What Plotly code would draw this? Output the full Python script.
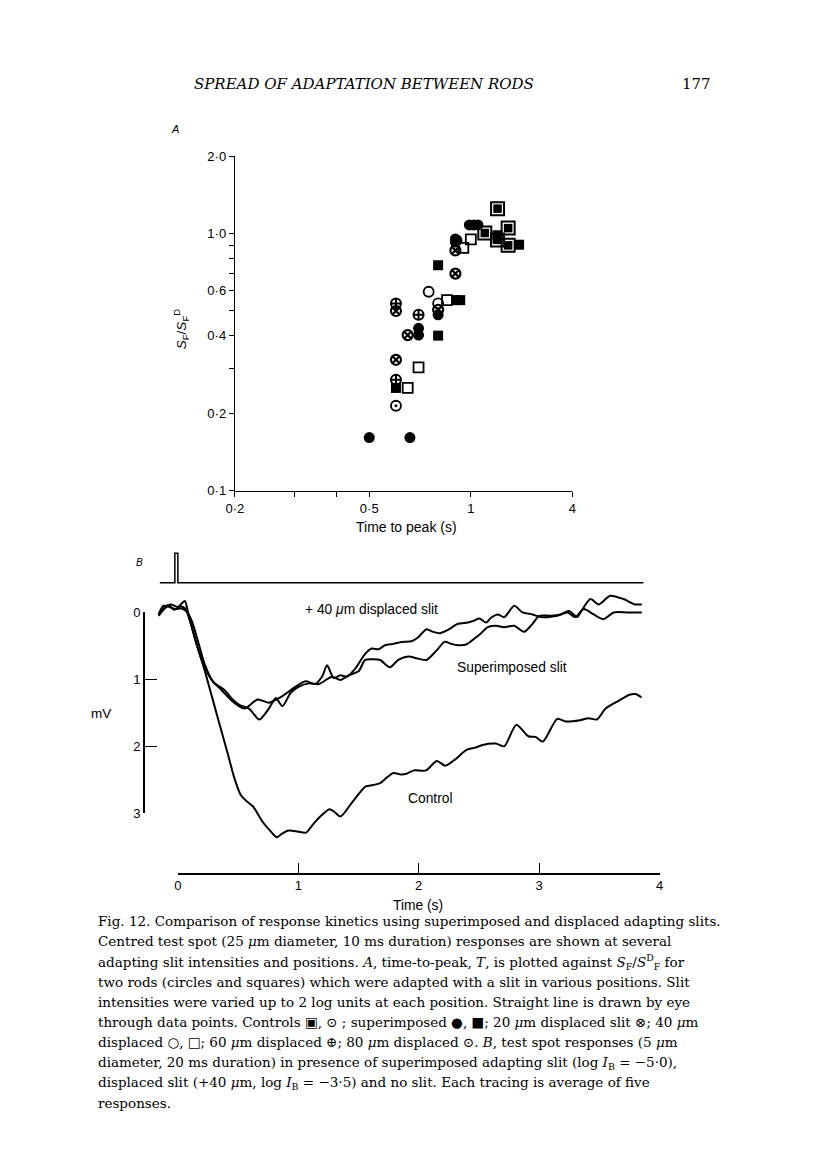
import math
import plotly.graph_objects as go

# The page body keeps the browser's default 8px margin, so the figure is offset by it.
OFF = 8
W, H = 816 - OFF, 1163 - OFF
def xp(px): return (px - OFF) / W
def yp(py): return 1 - (py - OFF) / H

SANS = "Liberation Sans, Arial, sans-serif"
SERIF = "DejaVu Serif, Liberation Serif, serif"

# ---------------- Panel A data (time to peak, s ; S_F/S_F^D) ----------------
ctrl_sq_t = [1.20, 1.29, 1.10, 1.29, 1.20]
ctrl_sq_s = [1.25, 1.05, 1.005, 0.90, 0.945]
ctrl_circ_t = [0.60]
ctrl_circ_s = [0.214]
sup_circ_t = [0.50, 0.66, 0.70, 0.70, 0.80, 0.90, 0.90, 0.91, 0.99, 1.02, 1.05]
sup_circ_s = [0.161, 0.161, 0.428, 0.403, 0.483, 0.927, 0.953, 0.94, 1.08, 1.08, 1.08]
sup_sq_t = [0.60, 0.80, 0.80, 0.905, 0.93, 1.20, 1.20, 1.39]
sup_sq_s = [0.251, 0.753, 0.401, 0.551, 0.551, 0.985, 0.955, 0.905]
d20_t = [0.60, 0.60, 0.65, 0.80, 0.90, 0.90]
d20_s = [0.323, 0.50, 0.403, 0.505, 0.699, 0.86]
d40_circ_t = [0.75, 0.80]
d40_circ_s = [0.594, 0.535]
d40_sq_t = [0.65, 0.70, 0.85, 0.95, 1.00]
d40_sq_s = [0.251, 0.302, 0.551, 0.879, 0.95]
d60_t = [0.60, 0.60, 0.70]
d60_s = [0.270, 0.535, 0.483]

a_xticks = [0.2, 0.3, 0.4, 0.5, 1, 2]
a_xlabels = ["0·2", "", "", "0·5", "1", "4"]
a_yticks = [0.1, 0.2, 0.3, 0.4, 0.5, 0.6, 0.7, 0.8, 0.9, 1.0, 2.0]
a_ylabels = ["0·1", "0·2", "", "0·4", "", "0·6", "", "", "", "1·0", "2·0"]

# ---------------- Panel B data (time, s ; response, mV) ----------------
control_t = [-0.16, -0.13, -0.08, -0.03, 0.02, 0.06, 0.10, 0.15, 0.22, 0.263, 0.346, 0.42, 0.47,
             0.52, 0.57, 0.625, 0.70, 0.76, 0.82, 0.87, 0.92, 0.98, 1.065, 1.10, 1.14, 1.20, 1.26,
             1.30, 1.35, 1.45, 1.56, 1.62, 1.68, 1.74, 1.79, 1.85, 1.90, 1.96, 2.06, 2.15, 2.22,
             2.30, 2.40, 2.47, 2.53, 2.64, 2.71, 2.81, 2.91, 2.97, 3.03, 3.15, 3.22, 3.34, 3.41,
             3.48, 3.55, 3.66, 3.75, 3.80, 3.85]
control_mv = [0.03, -0.04, -0.11, -0.04, -0.09, -0.06, 0.12, 0.44, 0.85, 1.13, 1.67, 2.15, 2.48,
              2.72, 2.82, 2.90, 3.12, 3.25, 3.36, 3.30, 3.26, 3.27, 3.29, 3.22, 3.13, 3.02, 2.94,
              2.98, 3.05, 2.83, 2.60, 2.58, 2.55, 2.46, 2.40, 2.42, 2.41, 2.36, 2.36, 2.22, 2.29,
              2.20, 2.05, 2.02, 1.98, 1.96, 2.00, 1.68, 1.85, 1.86, 1.93, 1.59, 1.63, 1.61, 1.58,
              1.60, 1.44, 1.32, 1.23, 1.22, 1.27]

displaced_t = [-0.16, -0.12, -0.07, -0.02, 0.03, 0.08, 0.12, 0.17, 0.22, 0.29, 0.346, 0.455, 0.538,
               0.565, 0.662, 0.758, 0.84, 0.923, 0.978, 1.06, 1.14, 1.20, 1.239, 1.294, 1.349,
               1.404, 1.473, 1.555, 1.61, 1.666, 1.72, 1.79, 1.858, 1.94, 1.996, 2.064, 2.12,
               2.174, 2.243, 2.326, 2.408, 2.463, 2.504, 2.56, 2.60, 2.656, 2.71, 2.793, 2.862,
               2.945, 3.013, 3.068, 3.15, 3.233, 3.30, 3.37, 3.453, 3.535, 3.618, 3.73, 3.852]
displaced_mv = [0.03, -0.10, -0.08, -0.05, -0.06, 0.0, 0.15, 0.45, 0.76, 1.03, 1.13, 1.33, 1.43,
                1.43, 1.30, 1.35, 1.28, 1.18, 1.11, 1.03, 1.07, 0.95, 0.79, 0.98, 0.94,
                0.96, 0.84, 0.62, 0.54, 0.55, 0.49, 0.47, 0.44, 0.43, 0.37, 0.25, 0.29,
                0.31, 0.26, 0.17, 0.15, 0.12, 0.09, 0.15, 0.08, 0.03, 0.07, -0.10, 0.0,
                0.03, 0.07, 0.07, 0.05, 0.0, 0.07, -0.05, 0.03, 0.10, 0.0, 0.0, 0.0]

superimp_t = [-0.16, -0.11, -0.06, 0.0, 0.057, 0.09, 0.14, 0.20, 0.25, 0.30, 0.387, 0.455, 0.51,
              0.593, 0.676, 0.758, 0.813, 0.868, 0.937, 1.006, 1.088, 1.171, 1.28, 1.349, 1.418,
              1.50, 1.555, 1.625, 1.68, 1.76, 1.83, 1.913, 1.996, 2.064, 2.147, 2.215, 2.27,
              2.326, 2.394, 2.463, 2.518, 2.573, 2.642, 2.71, 2.793, 2.875, 2.945, 3.0, 3.096,
              3.178, 3.247, 3.316, 3.343, 3.426, 3.494, 3.59, 3.70, 3.796, 3.852]
superimp_mv = [0.05, -0.06, -0.12, -0.08, -0.17, 0.05, 0.38, 0.72, 0.92, 1.05, 1.16, 1.30, 1.38,
               1.44, 1.60, 1.43, 1.28, 1.40, 1.20, 1.11, 1.06, 1.07, 0.96, 1.01, 0.94,
               0.88, 0.71, 0.70, 0.71, 0.82, 0.71, 0.66, 0.69, 0.71, 0.57, 0.44, 0.47,
               0.49, 0.48, 0.39, 0.31, 0.22, 0.20, 0.22, 0.20, 0.29, 0.17, 0.05, 0.05,
               0.03, -0.02, 0.07, 0.0, -0.20, -0.12, -0.25, -0.20, -0.12, -0.12]

stim_t = [-0.15, -0.025, -0.025, 0.0, 0.0, 3.865]
stim_v = [0, 0, 1, 1, 0, 0]

b_xticks = [0, 1, 2, 3, 4]
b_yticks = [0, 1, 2, 3]

fig = go.Figure()

# ---------- Panel A markers ----------
def mk(x, y, symbol, size, lw=1.5):
    return go.Scatter(x=x, y=y, mode="markers", xaxis="x", yaxis="y",
                      showlegend=False, hoverinfo="skip", cliponaxis=False,
                      marker=dict(symbol=symbol, size=size, color="black",
                                  line=dict(color="black", width=lw)))

fig.add_trace(mk(sup_circ_t, sup_circ_s, "circle", 11, 0))
fig.add_trace(mk(sup_sq_t, sup_sq_s, "square", 10, 0))
fig.add_trace(mk(ctrl_sq_t, ctrl_sq_s, "square-open", 13, 2.0))
fig.add_trace(mk(ctrl_sq_t, ctrl_sq_s, "square", 8.5, 0))
fig.add_trace(mk(ctrl_circ_t, ctrl_circ_s, "circle-open-dot", 10, 1.8))
fig.add_trace(mk(d20_t, d20_s, "circle-x-open", 10, 2.2))
fig.add_trace(mk(d40_circ_t, d40_circ_s, "circle-open", 10, 1.8))
fig.add_trace(mk(d40_sq_t, d40_sq_s, "square-open", 10, 1.8))
fig.add_trace(mk(d60_t, d60_s, "circle-cross-open", 10, 2.0))

# ---------- Panel B traces ----------
line = dict(color="black", width=2, shape="spline", smoothing=0.7)
for tx, ty in [(control_t, control_mv), (displaced_t, displaced_mv), (superimp_t, superimp_mv)]:
    fig.add_trace(go.Scatter(x=tx, y=ty, mode="lines", xaxis="x2", yaxis="y2",
                             line=line, showlegend=False, hoverinfo="skip"))
fig.add_trace(go.Scatter(x=stim_t, y=stim_v, mode="lines", xaxis="x2", yaxis="y4",
                         line=dict(color="black", width=1.5), showlegend=False, hoverinfo="skip"))
# instantiate the free scale-bar axes
fig.add_trace(go.Scatter(x=[None], y=[None], xaxis="x3", yaxis="y3", showlegend=False, hoverinfo="skip"))

tf = dict(family=SANS, size=13, color="black")
px_per_s = 122.4
t0_px = 171.5
fig.update_layout(
    width=W, height=H, margin=dict(l=0, r=0, t=0, b=0),
    paper_bgcolor="white", plot_bgcolor="rgba(0,0,0,0)", showlegend=False,
    xaxis=dict(domain=[xp(229.5), xp(572.5)], type="log",
               range=[math.log10(0.2), math.log10(2)], tickvals=a_xticks, ticktext=a_xlabels,
               ticks="outside", ticklen=5, tickwidth=1.3, tickcolor="black",
               showline=True, linecolor="black", linewidth=1.4, showgrid=False, zeroline=False,
               tickfont=tf, anchor="y"),
    yaxis=dict(domain=[yp(490), yp(151)], type="log",
               range=[-1, math.log10(2)], tickvals=a_yticks, ticktext=a_ylabels,
               ticks="outside", ticklen=5, tickwidth=1.3, tickcolor="black",
               showline=True, linecolor="black", linewidth=1.4, showgrid=False, zeroline=False,
               tickfont=tf, anchor="x"),
    xaxis2=dict(domain=[xp(t0_px - 0.3 * px_per_s), xp(t0_px + 4.0 * px_per_s)],
                range=[-0.3, 4.0], visible=False, anchor="y2"),
    yaxis2=dict(domain=[yp(613.3 + 3.6 * 67.8), yp(613.3 - 0.35 * 67.8)],
                range=[3.6, -0.35], visible=False, anchor="x2"),
    yaxis4=dict(domain=[yp(586), yp(551)], range=[-0.09, 1.077], visible=False, anchor="x2"),
    xaxis3=dict(domain=[xp(t0_px), xp(t0_px + 4 * px_per_s)], range=[0, 4],
                tickvals=b_xticks, ticks="inside", ticklen=10, tickwidth=1.4, tickcolor="black",
                showline=True, linecolor="black", linewidth=1.5, showgrid=False, zeroline=False,
                tickfont=tf, anchor="free", position=yp(878)),
    yaxis3=dict(domain=[yp(816.7), yp(613.3)], range=[3, 0],
                tickvals=b_yticks, ticks="inside", ticklen=12, tickwidth=1.4, tickcolor="black",
                showline=True, linecolor="black", linewidth=1.5, showgrid=False, zeroline=False,
                tickfont=tf, anchor="free", position=xp(137)),
)

ann = []
def note(x, y, text, size=12, family=SANS, xanchor="center", angle=0, italic=False):
    ann.append(dict(x=xp(x), y=yp(y), xref="paper", yref="paper", text=text, showarrow=False,
                    xanchor=xanchor, yanchor="middle", textangle=angle,
                    font=dict(family=family, size=size, color="black",
                              style="italic" if italic else "normal")))

note(361, 78, "SPREAD OF ADAPTATION BETWEEN RODS", 15, SERIF, "center", italic=True)
note(715, 78, "177", 15, SERIF, "right")
note(169, 123, "A", 11, SANS, italic=True)
note(175, 326, "<i>S</i><sub>F</sub>/<i>S</i><sub>F</sub><sup>D</sup>", 13.5, SANS, angle=-90)
note(404, 527, "Time to peak (s)", 14)
note(133, 563, "B", 10, SANS, italic=True)
note(368, 610, "+ 40 <i>μ</i>m displaced slit", 13.8)
note(511, 669, "Superimposed slit", 13.8)
note(428, 802, "Control", 13.8)
note(93, 716, "mV", 13.5)
note(416, 910, "Time (s)", 13.8)

caption = [
    "Fig. 12. Comparison of response kinetics using superimposed and displaced adapting slits.",
    "Centred test spot (25 <i>μ</i>m diameter, 10 ms duration) responses are shown at several",
    "adapting slit intensities and positions. <i>A</i>, time-to-peak, <i>T</i>, is plotted against <i>S</i><sub>F</sub>/<i>S</i><sup>D</sup><sub>F</sub> for",
    "two rods (circles and squares) which were adapted with a slit in various positions. Slit",
    "intensities were varied up to 2 log units at each position. Straight line is drawn by eye",
    "through data points. Controls ▣, ⊙ ; superimposed ●, ■; 20 <i>μ</i>m displaced slit ⊗; 40 <i>μ</i>m",
    "displaced ○, □; 60 <i>μ</i>m displaced ⊕; 80 <i>μ</i>m displaced ⊙. <i>B</i>, test spot responses (5 <i>μ</i>m",
    "diameter, 20 ms duration) in presence of superimposed adapting slit (log <i>I</i><sub>B</sub> = −5·0),",
    "displaced slit (+40 <i>μ</i>m, log <i>I</i><sub>B</sub> = −3·5) and no slit. Each tracing is average of five",
    "responses.",
]
for i, line_txt in enumerate(caption):
    note(88, 926 + i * 20.5, line_txt, 13.5, SERIF, "left")

fig.update_layout(annotations=ann)
fig.write_html("out.html")
